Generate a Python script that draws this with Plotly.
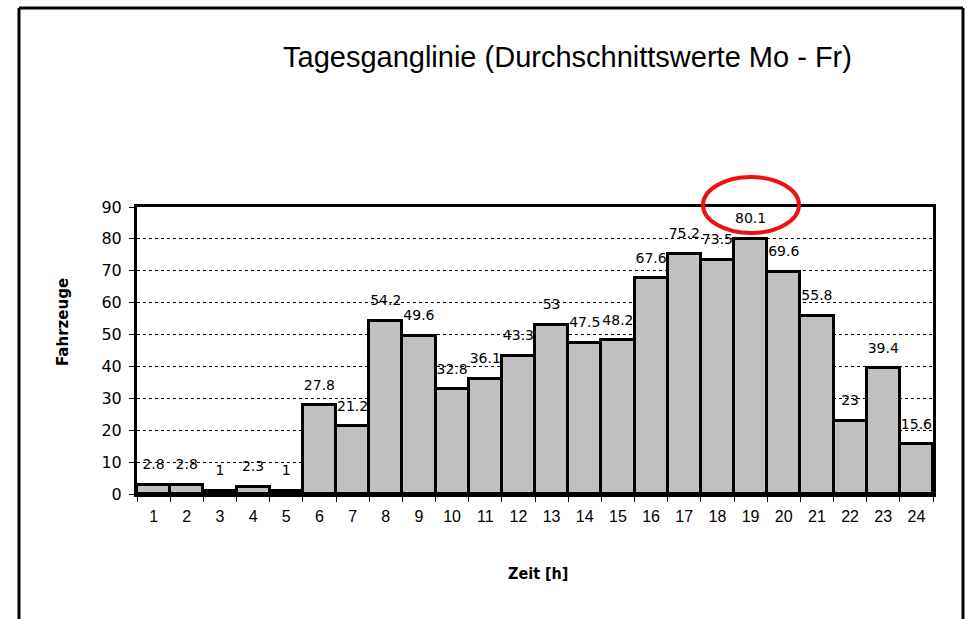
import plotly.graph_objects as go

hours = [str(h) for h in range(1, 25)]
vehicles = [2.8, 2.8, 1, 2.3, 1, 27.8, 21.2, 54.2, 49.6, 32.8, 36.1, 43.3,
            53, 47.5, 48.2, 67.6, 75.2, 73.5, 80.1, 69.6, 55.8, 23, 39.4, 15.6]
y_ticks = [0, 10, 20, 30, 40, 50, 60, 70, 80, 90]
title_text = "Tagesganglinie (Durchschnittswerte Mo - Fr)"
x_title = "Zeit [h]"
y_title = "Fahrzeuge"

fig = go.Figure()
fig.add_trace(go.Bar(
    x=hours, y=vehicles,
    marker=dict(color="#C0C0C0", line=dict(color="black", width=3)),
    hoverinfo="skip",
))
fig.add_trace(go.Scatter(
    x=hours, y=vehicles, mode="markers+text",
    marker=dict(size=18, opacity=0),
    text=[f"{v:g}" for v in vehicles],
    textposition="top center",
    textfont=dict(family="DejaVu Sans", size=14, color="black"),
    cliponaxis=False, hoverinfo="skip",
))

fig.update_layout(
    width=970, height=619,
    margin=dict(l=137, r=37, t=207, b=125),
    paper_bgcolor="white", plot_bgcolor="white",
    bargap=0, showlegend=False,
)
fig.update_xaxes(
    type="category", range=[-0.5, 23.5], tickson="boundaries",
    ticks="outside", ticklen=5, tickcolor="black", tickwidth=1,
    ticklabelstandoff=6,
    showline=True, linecolor="black", linewidth=3, mirror=True,
    showgrid=False,
    tickfont=dict(family="Liberation Sans Narrow, Liberation Sans", size=16, color="black"),
)
fig.update_yaxes(
    range=[0, 90], tickvals=y_ticks, ticks="outside", ticklen=5,
    tickcolor="black", tickwidth=1, ticklabelstandoff=4,
    showline=True, linecolor="black", linewidth=3, mirror=True,
    showgrid=True, gridcolor="black", gridwidth=1, griddash="dot",
    zeroline=False,
    tickfont=dict(family="DejaVu Sans", size=16, color="black"),
)

# outer frame (edges drawn as separate lines)
fx0, fx1 = (19 - 137) / 796, (963 - 137) / 796
fy1, fy0 = (494 - 8) / 287, (494 - 640) / 287
frame = dict(color="black", width=3)
fig.add_shape(type="line", xref="paper", yref="paper", x0=fx0, x1=fx1, y0=fy1, y1=fy1, line=frame)
fig.add_shape(type="line", xref="paper", yref="paper", x0=fx0, x1=fx0, y0=fy0, y1=fy1, line=frame)
fig.add_shape(type="line", xref="paper", yref="paper", x0=fx1, x1=fx1, y0=fy0, y1=fy1, line=frame)
# red highlight ellipse around max value
fig.add_shape(type="circle", xref="paper", yref="paper",
              x0=(703 - 137) / 796, x1=(799 - 137) / 796,
              y0=(494 - 233) / 287, y1=(494 - 177) / 287,
              line=dict(color="#EE1111", width=4))

fig.add_annotation(text=title_text, xref="paper", yref="paper",
                   x=(567 - 137) / 796, y=(494 - 57) / 287, showarrow=False,
                   xanchor="center", yanchor="middle",
                   font=dict(family="Liberation Sans Narrow, Liberation Sans", size=29, color="black"))
fig.add_annotation(text=f"<b>{x_title}</b>", xref="paper", yref="paper",
                   x=(538 - 137) / 796, y=(494 - 573) / 287, showarrow=False,
                   xanchor="center", yanchor="middle",
                   font=dict(family="DejaVu Sans Condensed, DejaVu Sans", size=16, color="black"))
fig.add_annotation(text=f"<b>{y_title}</b>", xref="paper", yref="paper",
                   x=(63 - 137) / 796, y=(494 - 322) / 287, showarrow=False,
                   xanchor="center", yanchor="middle", textangle=-90,
                   font=dict(family="DejaVu Sans", size=15, color="black"))

fig.write_html("out.html", config={"displayModeBar": False},
               post_script="document.body.style.margin='0';document.body.style.padding='0';")
